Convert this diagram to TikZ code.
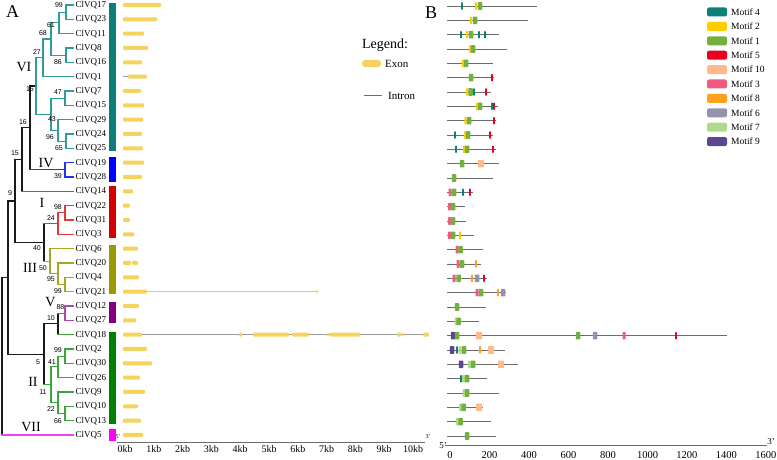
\documentclass[tikz,border=0pt]{standalone}
\usepackage{fontspec}
\setmainfont{Liberation Serif}
\newfontfamily\numfont{Liberation Sans}

% clade colours (tree lines and group bars)
\definecolor{tk}{HTML}{1A1A1A}
\definecolor{cVI}{HTML}{2E9C98}
\definecolor{cIV}{HTML}{2233EE}
\definecolor{cI}{HTML}{E0393B}
\definecolor{cIII}{HTML}{A8A81E}
\definecolor{cV}{HTML}{A64DA6}
\definecolor{cII}{HTML}{3FA33F}
\definecolor{cVII}{HTML}{EE44EE}
\definecolor{bVI}{HTML}{0B7F77}
\definecolor{bIV}{HTML}{0000FF}
\definecolor{bI}{HTML}{D40000}
\definecolor{bIII}{HTML}{999900}
\definecolor{bV}{HTML}{800080}
\definecolor{bII}{HTML}{008000}
\definecolor{bVII}{HTML}{FF00FF}
\definecolor{exonc}{HTML}{F6D35C}
% motif colours
\definecolor{mc4}{HTML}{0F8077}
\definecolor{mc2}{HTML}{FFCC00}
\definecolor{mc1}{HTML}{72B13E}
\definecolor{mc5}{HTML}{E8001C}
\definecolor{mc10}{HTML}{FFB98A}
\definecolor{mc3}{HTML}{EE5A80}
\definecolor{mc8}{HTML}{FFA01E}
\definecolor{mc6}{HTML}{9492AE}
\definecolor{mc7}{HTML}{AEDA8C}
\definecolor{mc9}{HTML}{5D4690}

\newcommand\ry[1]{(5+(#1-1)*14.333)}
\newcommand\br[4]{\draw[tree,#3] (#1) -- (#1 |- #2); \draw[tree,#4] (#1 |- #2) -- (#2);}
\newcommand\setmw[2]{\expandafter\def\csname mw#1\endcsname{#2}}
\setmw{4}{1.6}\setmw{2}{2.2}\setmw{1}{4.5}\setmw{5}{1.6}\setmw{10}{6}
\setmw{3}{3}\setmw{8}{1.8}\setmw{6}{4.5}\setmw{7}{3}\setmw{9}{4.5}
\newcommand\prot[3]{%
  \draw[prot] (447,{\ry{#1}+1}) -- (#2,{\ry{#1}+1});
  \foreach \m/\x in {#3}{%
    \pgfmathsetmacro\w{\csname mw\m\endcsname}%
    \fill[fill=mc\m,rounded corners=0.7pt] ({\x-\w/2},{\ry{#1}-2.8}) rectangle ({\x+\w/2},{\ry{#1}+4.8});
  }}

\begin{document}
\begin{tikzpicture}[x=1pt,y=-1pt,
  gene/.style={anchor=west, inner sep=2.5pt, font=\fontsize{9}{9}\selectfont},
  boot/.style={inner sep=0pt, font=\numfont\fontsize{7}{7}\selectfont},
  clade/.style={inner sep=0pt, font=\fontsize{14}{14}\selectfont},
  panel/.style={inner sep=0pt, font=\fontsize{18}{18}\selectfont},
  tick/.style={inner sep=0pt, font=\fontsize{10}{10}\selectfont},
  legtext/.style={anchor=west, inner sep=0pt, font=\fontsize{9.5}{9.5}\selectfont},
  tree/.style={line width=1.1pt, line cap=rect},
  exon/.style={fill=exonc, rounded corners=1pt},
  intron/.style={draw=gray!75, line width=1pt},
  prot/.style={draw=gray!85!black, line width=0.9pt},
  axis/.style={draw=gray!85!black, line width=1pt}
]
\useasboundingbox (0,0) rectangle (777,460);

\node[panel] (pA) at (12.5,12) {A};
\node[panel] (pB) at (431,12.5) {B};

% gene names
\foreach \g [count=\i] in {17,23,11,8,16,1,7,15,29,24,25,19,28,14,22,31,3,6,20,4,21,12,27,18,2,30,26,9,10,13,5}
  \node[gene] (q\g) at (73,{\ry{\i}}) {ClVQ\g};

% inner nodes of the tree
\coordinate (vi1) at (66,12.2);
\coordinate (vi2) at (59,22.9);
\coordinate (vi3) at (66,55.2);
\coordinate (vi4) at (51,39.0);
\coordinate (vi5) at (43,57.8);
\coordinate (vi6) at (65,98.2);
\coordinate (vi7) at (66,141.2);
\coordinate (vi8) at (58,130.4);
\coordinate (vi9) at (51,114.3);
\coordinate (vi10) at (36,86.0);
\coordinate (iv1) at (65,169.8);
\coordinate (i1) at (65,212.8);
\coordinate (i2) at (58,223.6);
\coordinate (iii1) at (65,284.5);
\coordinate (iii2) at (58,273.7);
\coordinate (iii3) at (50,261.2);
\coordinate (v1) at (65,313.2);
\coordinate (ii1) at (65,356.2);
\coordinate (ii2) at (58,366.9);
\coordinate (ii3) at (65,413.5);
\coordinate (ii4) at (58,402.8);
\coordinate (ii5) at (51,384.8);
\coordinate (k1) at (30,127.9);
\coordinate (k2) at (22,159.6);
\coordinate (k3) at (15,201.0);
\coordinate (k4) at (44,242.4);
\coordinate (k5) at (58,323.9);
\coordinate (k6) at (44,354.4);
\coordinate (k7) at (8,277.7);
\coordinate (k0) at (2,356.4);

% backbone
\br{k0}{k7}{tk}{tk}
\br{k0}{q5}{tk}{cVII}
\br{k7}{k3}{tk}{tk}
\br{k7}{k6}{tk}{tk}
\br{k3}{k2}{tk}{tk}
\br{k3}{k4}{tk}{tk}
\br{k2}{k1}{tk}{tk}
\br{k2}{q14}{tk}{cI}
\br{k1}{vi10}{tk}{tk}
\br{k1}{iv1}{tk}{cIV}
\br{k4}{i2}{tk}{cI}
\br{k4}{iii3}{tk}{cIII}
\br{k6}{k5}{tk}{tk}
\br{k6}{ii5}{tk}{cII}
\br{k5}{v1}{tk}{cV}
\br{k5}{q18}{tk}{cII}
% VI
\br{vi10}{vi5}{cVI}{cVI}
\br{vi10}{vi9}{cVI}{cVI}
\br{vi5}{vi4}{cVI}{cVI}
\br{vi5}{q1}{cVI}{cVI}
\br{vi4}{vi2}{cVI}{cVI}
\br{vi4}{vi3}{cVI}{cVI}
\br{vi2}{vi1}{cVI}{cVI}
\br{vi2}{q11}{cVI}{cVI}
\br{vi1}{q17}{cVI}{cVI}
\br{vi1}{q23}{cVI}{cVI}
\br{vi3}{q8}{cVI}{cVI}
\br{vi3}{q16}{cVI}{cVI}
\br{vi9}{vi6}{cVI}{cVI}
\br{vi9}{vi8}{cVI}{cVI}
\br{vi6}{q7}{cVI}{cVI}
\br{vi6}{q15}{cVI}{cVI}
\br{vi8}{q29}{cVI}{cVI}
\br{vi8}{vi7}{cVI}{cVI}
\br{vi7}{q24}{cVI}{cVI}
\br{vi7}{q25}{cVI}{cVI}
% IV
\br{iv1}{q19}{cIV}{cIV}
\br{iv1}{q28}{cIV}{cIV}
% I
\br{i2}{i1}{cI}{cI}
\br{i2}{q3}{cI}{cI}
\br{i1}{q22}{cI}{cI}
\br{i1}{q31}{cI}{cI}
% III
\br{iii3}{q6}{cIII}{cIII}
\br{iii3}{iii2}{cIII}{cIII}
\br{iii2}{q20}{cIII}{cIII}
\br{iii2}{iii1}{cIII}{cIII}
\br{iii1}{q4}{cIII}{cIII}
\br{iii1}{q21}{cIII}{cIII}
% V
\br{v1}{q12}{cV}{cV}
\br{v1}{q27}{cV}{cV}
% II
\br{ii5}{ii2}{cII}{cII}
\br{ii5}{ii4}{cII}{cII}
\br{ii2}{ii1}{cII}{cII}
\br{ii2}{q26}{cII}{cII}
\br{ii1}{q2}{cII}{cII}
\br{ii1}{q30}{cII}{cII}
\br{ii4}{q9}{cII}{cII}
\br{ii4}{ii3}{cII}{cII}
\br{ii3}{q10}{cII}{cII}
\br{ii3}{q13}{cII}{cII}

% bootstrap values
\foreach \t/\x/\y [count=\k] in {99/59/5, 61/51/25, 68/43/33, 27/37/52, 86/58/62, 16/30/89,
    47/58/92, 43/52/119, 96/50/137, 65/59/148, 16/23/122, 15/15/153, 39/58/176, 9/10/193,
    98/58/207, 24/51/218, 40/37/248, 50/43/268, 95/51/279, 99/58/291, 88/60.5/307, 10/51/318,
    99/58/350, 5/38/362, 41/52/362, 11/43/392, 22/51/409, 66/58/421}
  \node[boot] (bs\k) at (\x,\y) {\t};

% clade names
\node[clade] (lVI) at (24,67) {VI};
\node[clade] (lIV) at (46,163) {IV};
\node[clade] (lI) at (42,203) {I};
\node[clade] (lIII) at (30,268) {III};
\node[clade] (lV) at (50.5,302) {V};
\node[clade] (lII) at (33,382) {II};
\node[clade] (lVII) at (31,427) {VII};

% group bars
\fill[bVI] (109,3) rectangle (116,151);
\fill[bIV] (109,157) rectangle (116,182);
\fill[bI] (109,186) rectangle (116,238);
\fill[bIII] (109,245) rectangle (116,294);
\fill[bV] (109,302) rectangle (116,323);
\fill[bII] (109,332) rectangle (116,424);
\fill[bVII] (109,429) rectangle (116,441);

% gene structures
\draw[intron] (123,{\ry{6}}) -- (129,{\ry{6}});
\draw[intron, draw=gray!45] (147,{\ry{21}}) -- (317,{\ry{21}});
\draw[intron, draw=gray!80] (142,{\ry{24}}) -- (429,{\ry{24}});
\foreach \r/\e in {1/161,2/157,3/144,4/148,5/142,7/141,8/144,9/143,10/142,11/143,12/144,13/142,
    14/133,15/130,16/130,17/134,18/138,20/139,21/147,22/139,23/136,24/142,25/147,26/152,
    27/140,28/145,29/138,30/141,31/143}
  \fill[exon] (123,{\ry{\r}-2}) rectangle (\e,{\ry{\r}+2});
\fill[exon] (128,{\ry{6}-2}) rectangle (147,{\ry{6}+2});
\foreach \a/\b in {123/131,132/138}
  \fill[exon] (\a,{\ry{19}-2}) rectangle (\b,{\ry{19}+2});
\fill[exon] (316,{\ry{21}-1.5}) rectangle (318,{\ry{21}+1.5});
\foreach \a/\b in {239/242,253/289,292/309,327/329,330/360,397/401,402/404,423/429}
  \fill[exon] (\a,{\ry{24}-2}) rectangle (\b,{\ry{24}+2});

% kb axis
\draw[axis] (117,442) -- (425,442);
\node[inner sep=0pt, font=\fontsize{6}{6}\selectfont] (a5p) at (118,437) {5'};
\node[inner sep=0pt, font=\fontsize{6}{6}\selectfont] (a3p) at (428,437) {3'};
\foreach \k in {0,...,10}
  \node[tick] (ta\k) at ({125+28.8*\k},449) {\k kb};

% legend of panel A
\node[inner sep=0pt, font=\fontsize{14}{14}\selectfont] (leg) at (385,45) {Legend:};
\fill[exon, rounded corners=3pt] (362,60) rectangle (381,67);
\node[legtext, font=\fontsize{11}{11}\selectfont] (lexon) at (385,64) {Exon};
\draw[prot] (364,95) -- (382,95);
\node[legtext, font=\fontsize{11}{11}\selectfont] (lintron) at (388,96) {Intron};

% motifs
\prot{1}{537}{4/462,2/476,1/480}
\prot{2}{528}{2/471,1/475}
\prot{3}{499}{4/461,2/467,1/471,4/479,4/485}
\prot{4}{507}{2/470,1/473}
\prot{5}{493}{2/463,1/466}
\prot{6}{494}{1/471,5/492}
\prot{7}{491}{2/467,1/470.5,4/474,5/486}
\prot{8}{498}{2/477,1/480,4/492,5/494}
\prot{9}{496}{2/465.5,1/469,5/494}
\prot{10}{493}{4/455,2/465,1/468,5/490}
\prot{11}{496}{4/456,2/464,1/467,5/493}
\prot{12}{499}{1/462,10/481}
\prot{13}{493}{1/454}
\prot{14}{473}{3/450,1/454,4/463,5/470}
\prot{15}{465}{3/449.5,1/453}
\prot{16}{466}{3/449.5,1/453}
\prot{17}{474}{3/449.5,1/453,2/460}
\prot{18}{483}{3/457,1/460.5}
\prot{19}{481}{3/458,1/462,8/476}
\prot{20}{487}{3/454,1/458.5,8/472,6/477,5/484}
\prot{21}{506}{3/477,1/481,8/498,6/503}
\prot{22}{486}{1/457}
\prot{23}{479}{7/456,1/458.5}
\prot{24}{727}{9/453,1/457,10/479,1/578,6/595,3/624,5/676}
\prot{25}{505}{9/452,4/457,7/460,1/464,8/480,10/491}
\prot{26}{518}{9/461,7/469.5,1/473,10/501}
\prot{27}{487}{4/461,7/463.5,1/467}
\prot{28}{499}{7/464,1/467}
\prot{29}{483}{7/460.5,1/463.5,10/479}
\prot{30}{491}{7/457.5,1/460.5}
\prot{31}{496}{1/467}

% aa axis
\draw[axis] (445,445) -- (767,445);
\node[inner sep=0pt, font=\fontsize{9}{9}\selectfont] (b5p) at (443,446) {5'};
\node[inner sep=0pt, font=\fontsize{9}{9}\selectfont] (b3p) at (771,442) {3'};
\foreach \v in {0,200,...,1600}
  \node[tick, font=\fontsize{10.5}{10.5}\selectfont] (tb\v) at ({450+0.1975*\v},455) {\v};

% legend of panel B
\foreach \m/\t [count=\k] in {4/Motif 4,2/Motif 2,1/Motif 1,5/Motif 5,10/Motif 10,
    3/Motif 3,8/Motif 8,6/Motif 6,7/Motif 7,9/Motif 9} {
  \fill[fill=mc\m, rounded corners=2pt] (707,{12+(\k-1)*14.4-4.5}) rectangle (727,{12+(\k-1)*14.4+4.5});
  \node[legtext] (lm\k) at (731,{12+(\k-1)*14.4}) {\t};
}
\end{tikzpicture}
\end{document}
